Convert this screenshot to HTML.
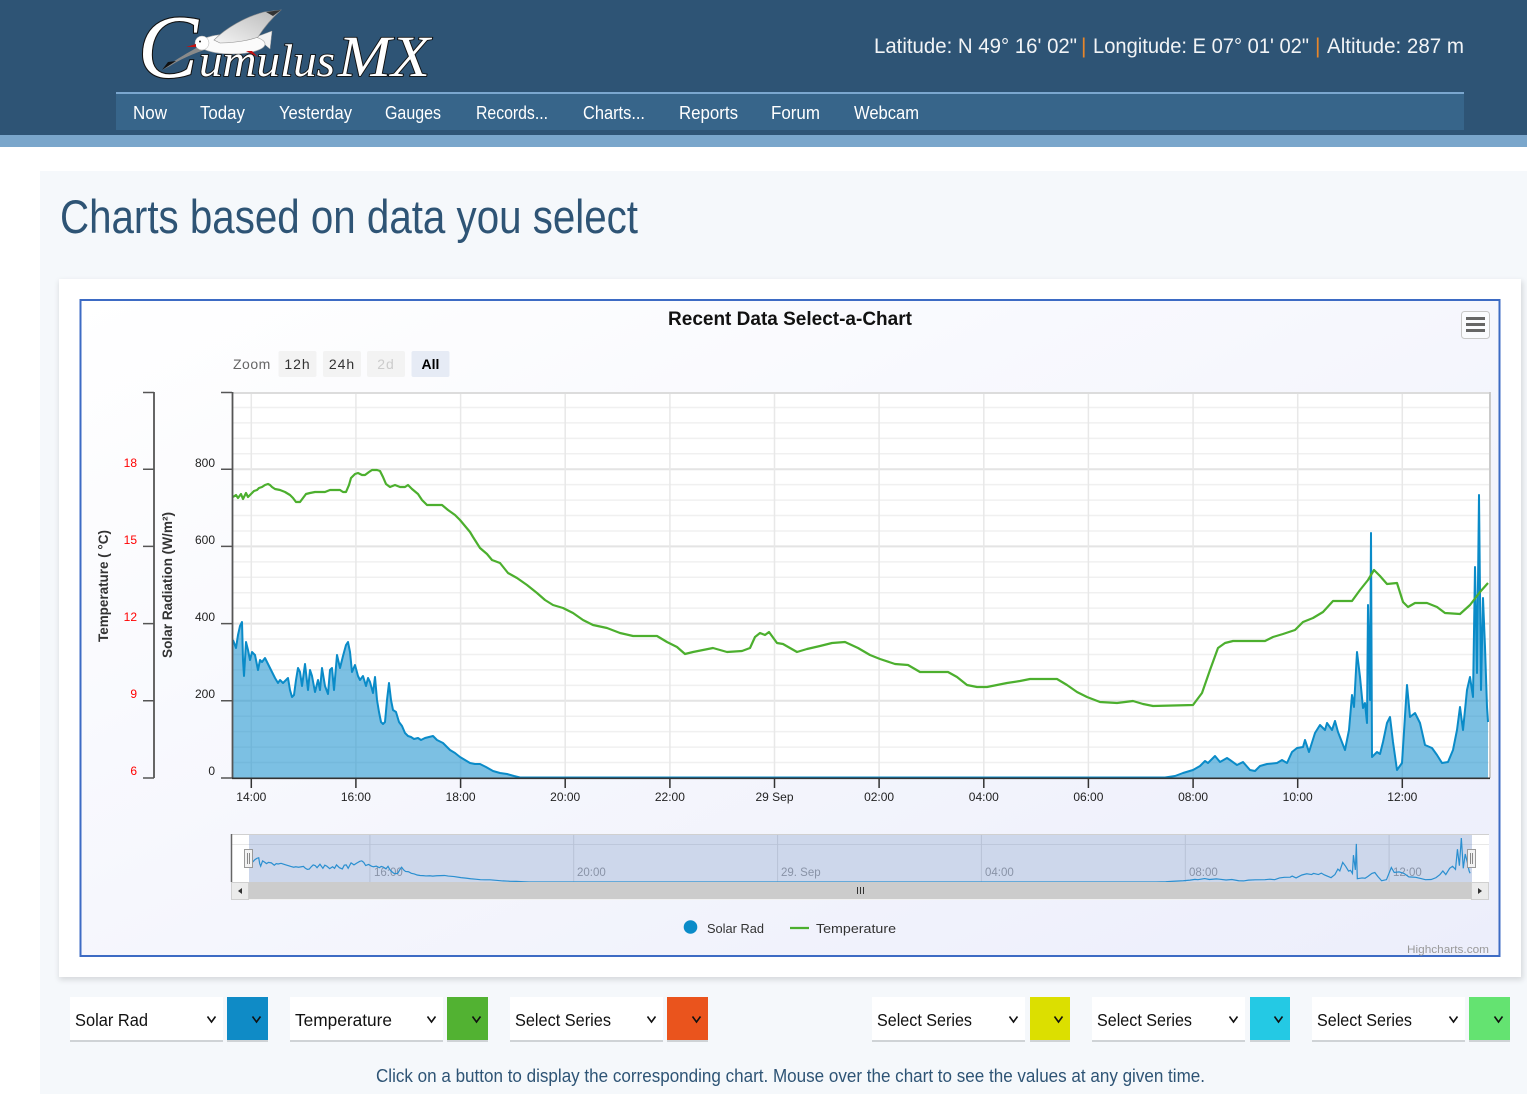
<!DOCTYPE html>
<html><head><meta charset="utf-8">
<style>
html,body{margin:0;padding:0;background:#fff;width:1527px;height:1094px;overflow:hidden}
svg{display:block}
text{font-family:"Liberation Sans",Arial,sans-serif}
</style></head>
<body>
<svg width="1527" height="1094" viewBox="0 0 1527 1094" xmlns="http://www.w3.org/2000/svg">
<defs>
  <linearGradient id="cbg" x1="0" y1="0" x2="1" y2="1">
    <stop offset="0" stop-color="#ffffff"/>
    <stop offset="1" stop-color="#eceefb"/>
  </linearGradient>
  <linearGradient id="wing" x1="0" y1="1" x2="1" y2="0">
    <stop offset="0" stop-color="#f4f4f4"/>
    <stop offset="1" stop-color="#b8b8b8"/>
  </linearGradient>
  <clipPath id="plot"><rect x="232" y="392" width="1258" height="386"/></clipPath>
  <clipPath id="navclip"><rect x="231" y="835" width="1258" height="47"/></clipPath>
  <filter id="sh" x="-5%" y="-5%" width="110%" height="110%"><feGaussianBlur stdDeviation="3"/></filter>
  <path id="sl" vector-effect="non-scaling-stroke" d="M233,640 L236,648 238,635 240,626 242,622 243,660 244,676 246,642 248,650 250,660 252,652 255,655 258,670 260,660 262,662 265,658 268,664 270,668 273,674 275,678 278,683 280,680 283,683 286,680 288,678 290,690 292,697 294,695 296,680 298,668 300,672 302,686 305,664 308,690 310,670 312,676 315,692 318,680 320,690 322,668 325,686 328,694 330,670 332,668 334,690 337,655 340,668 343,656 346,645 348,642 350,652 352,672 355,665 358,676 360,680 363,676 366,686 368,678 370,682 373,693 375,677 377,700 379,712 381,722 383,724 385,722 387,700 389,683 391,700 393,710 396,712 399,722 402,726 405,733 408,736 411,737 414,739 418,738 421,740 425,738 429,737 433,736 437,740 443,743 450,750 455,753 460,757 465,760 470,763 475,764 480,764 486,767 493,771 500,773 507,774 514,776 520,777.5 1165,777.5 1175,776 1183,773 1193,770 1200,766 1205,761 1208,763 1215,756 1220,762 1227,758 1230,760 1237,765 1243,762 1250,770 1255,771 1260,766 1267,764 1277,763 1282,760 1287,763 1292,752 1297,748 1303,747 1305,740 1309,752 1315,733 1320,725 1325,730 1327,723 1332,730 1335,721 1338,732 1345,750 1349,730 1352,695 1354,707 1357,652 1360,677 1363,708 1365,703 1367,723 1368,605 1370,700 1371,533 1372,757 1377,752 1380,754 1383,742 1387,723 1390,717 1393,742 1397,770 1402,763 1407,685 1410,717 1415,713 1420,723 1425,745 1432,748 1437,755 1442,763 1448,762 1453,750 1457,730 1460,707 1463,730 1467,690 1470,677 1473,697 1475,567 1477,673 1479,495 1481,690 1483,598 1485,647 1487,707 1488,722"/>
</defs>

<!-- Header -->
<rect x="0" y="0" width="1527" height="135" fill="#2e5475"/>
<rect x="0" y="135" width="1527" height="12" fill="#7aa6cb"/>
<rect x="116" y="92" width="1348" height="38" fill="#37658a"/>
<rect x="116" y="92" width="1348" height="2" fill="#7ba7cf"/>

<!-- Logo -->
<text x="138" y="77" font-style="italic" font-size="90" fill="#fff" stroke="#111" stroke-width="2.2" paint-order="stroke" style="font-family:'Liberation Serif',serif">C</text>
<text x="199" y="76" font-style="italic" font-size="46" fill="#fff" stroke="#111" stroke-width="1.8" paint-order="stroke" textLength="136" lengthAdjust="spacingAndGlyphs" style="font-family:'Liberation Serif',serif">umulus</text>
<text x="338" y="76" font-style="italic" font-size="58" fill="#fff" stroke="#111" stroke-width="1.8" paint-order="stroke" textLength="92" lengthAdjust="spacingAndGlyphs" style="font-family:'Liberation Serif',serif">MX</text>
<g>
  <!-- far (lower) wing -->
  <path d="M214,47 C200,51 184,57 170,66 L162,70 C172,62 188,52 204,44 Z" fill="#8a8a8a"/>
  <path d="M176,61 L162,70 L168,62 Z" fill="#111"/>
  <!-- tail -->
  <path d="M256,37 L272,31 L270,49 Z" fill="#f2f2f2" stroke="#a0a0a0" stroke-width="0.5"/>
  <!-- body -->
  <ellipse cx="232" cy="44" rx="33" ry="10" fill="#fbfbfb" stroke="#a8a8a8" stroke-width="0.6"/>
  <!-- near (upper) wing -->
  <path d="M214,40 C226,28 245,17 264,12 L281,10 C272,18 265,26 258,37 C248,41 232,43 220,43 Z" fill="url(#wing)" stroke="#8f8f8f" stroke-width="0.6"/>
  <path d="M266,12 L281,10 L273,16 Z" fill="#333"/>
  <!-- head -->
  <circle cx="202" cy="43" r="7" fill="#fff" stroke="#b0b0b0" stroke-width="0.5"/>
  <circle cx="200" cy="41.5" r="1" fill="#222"/>
  <path d="M196,44 L186,47 L196,47 Z" fill="#c41010"/>
  <path d="M246,51 L258,57 L252,51 Z" fill="#c41010"/>
</g>

<!-- Header right text -->
<g font-size="21" fill="#f2f4f6">
  <text x="874" y="53" textLength="203" lengthAdjust="spacingAndGlyphs">Latitude: N 49° 16' 02"</text>
  <text x="1081" y="53" fill="#e8862a">|</text>
  <text x="1093" y="53" textLength="216" lengthAdjust="spacingAndGlyphs">Longitude: E 07° 01' 02"</text>
  <text x="1315" y="53" fill="#e8862a">|</text>
  <text x="1327" y="53" textLength="137" lengthAdjust="spacingAndGlyphs">Altitude: 287 m</text>
</g>

<!-- Nav -->
<g font-size="18" fill="#fff">
  <text x="133" y="119" textLength="34" lengthAdjust="spacingAndGlyphs">Now</text>
  <text x="200" y="119" textLength="45" lengthAdjust="spacingAndGlyphs">Today</text>
  <text x="279" y="119" textLength="73" lengthAdjust="spacingAndGlyphs">Yesterday</text>
  <text x="385" y="119" textLength="56" lengthAdjust="spacingAndGlyphs">Gauges</text>
  <text x="476" y="119" textLength="72" lengthAdjust="spacingAndGlyphs">Records...</text>
  <text x="583" y="119" textLength="62" lengthAdjust="spacingAndGlyphs">Charts...</text>
  <text x="679" y="119" textLength="59" lengthAdjust="spacingAndGlyphs">Reports</text>
  <text x="771" y="119" textLength="49" lengthAdjust="spacingAndGlyphs">Forum</text>
  <text x="854" y="119" textLength="65" lengthAdjust="spacingAndGlyphs">Webcam</text>
</g>

<!-- Content panel -->
<rect x="40" y="171" width="1487" height="923" fill="#f5f8fb"/>
<text x="60" y="233" font-size="47" fill="#2e5475" textLength="578" lengthAdjust="spacingAndGlyphs">Charts based on data you select</text>

<!-- Card -->
<rect x="59" y="281" width="1464" height="699" fill="#000" opacity="0.12" filter="url(#sh)"/>
<rect x="59" y="279" width="1462" height="698" fill="#fff"/>

<!-- Chart container -->
<rect x="80.5" y="300" width="1419" height="656" fill="url(#cbg)" stroke="#3d6bc4" stroke-width="2"/>

<text x="790" y="325" text-anchor="middle" font-size="19" font-weight="bold" fill="#111">Recent Data Select-a-Chart</text>

<!-- Hamburger -->
<rect x="1461.5" y="311.5" width="28" height="27" rx="3" fill="#fafbfe" stroke="#c8c8c8"/>
<path d="M1466,318.5H1485 M1466,324.5H1485 M1466,330.5H1485" stroke="#666" stroke-width="3"/>

<!-- Range selector -->
<text x="233" y="369" font-size="14" fill="#666" letter-spacing="0.5">Zoom</text>
<rect x="278.5" y="351" width="38" height="26" rx="2" fill="#f3f3f3"/>
<rect x="323" y="351" width="38" height="26" rx="2" fill="#f3f3f3"/>
<rect x="367" y="351" width="38" height="26" rx="2" fill="#f3f3f3"/>
<rect x="411.5" y="351" width="38" height="26" rx="2" fill="#e6ebf5"/>
<g font-size="14" text-anchor="middle" letter-spacing="1">
  <text x="297.5" y="369" fill="#333">12h</text>
  <text x="342" y="369" fill="#333">24h</text>
  <text x="386" y="369" fill="#ccc">2d</text>
  <text x="430.5" y="369" fill="#000" font-weight="bold" letter-spacing="0">All</text>
</g>

<!-- Plot area -->
<rect x="232" y="392" width="1258" height="386" fill="#fff"/>
<path d="M232,762.56H1490 M232,747.12H1490 M232,731.68H1490 M232,716.24H1490 M232,685.36H1490 M232,669.92H1490 M232,654.48H1490 M232,639.04H1490 M232,608.16H1490 M232,592.72H1490 M232,577.28H1490 M232,561.84H1490 M232,530.96H1490 M232,515.52H1490 M232,500.08H1490 M232,484.64H1490 M232,453.76H1490 M232,438.32H1490 M232,422.88H1490 M232,407.44H1490" stroke="#f0f0f0" stroke-width="1.5" fill="none"/>
<path d="M232,700.8H1490 M232,623.6H1490 M232,546.4H1490 M232,469.2H1490" stroke="#e4e4e4" stroke-width="2" fill="none"/>
<path d="M251.3,392V778 M355.9,392V778 M460.6,392V778 M565.2,392V778 M669.9,392V778 M774.5,392V778 M879.1,392V778 M983.8,392V778 M1088.4,392V778 M1193.1,392V778 M1297.7,392V778 M1402.3,392V778" stroke="#e8e8e8" stroke-width="1.5" fill="none"/>
<path d="M232,393H1490" stroke="#dcdcdc" stroke-width="2"/>
<path d="M1490,392V778" stroke="#cacaca" stroke-width="2"/>

<!-- Series -->
<g clip-path="url(#plot)">
  <path fill="rgba(16,140,204,0.55)" stroke="none" d="M233,640 L236,648 238,635 240,626 242,622 243,660 244,676 246,642 248,650 250,660 252,652 255,655 258,670 260,660 262,662 265,658 268,664 270,668 273,674 275,678 278,683 280,680 283,683 286,680 288,678 290,690 292,697 294,695 296,680 298,668 300,672 302,686 305,664 308,690 310,670 312,676 315,692 318,680 320,690 322,668 325,686 328,694 330,670 332,668 334,690 337,655 340,668 343,656 346,645 348,642 350,652 352,672 355,665 358,676 360,680 363,676 366,686 368,678 370,682 373,693 375,677 377,700 379,712 381,722 383,724 385,722 387,700 389,683 391,700 393,710 396,712 399,722 402,726 405,733 408,736 411,737 414,739 418,738 421,740 425,738 429,737 433,736 437,740 443,743 450,750 455,753 460,757 465,760 470,763 475,764 480,764 486,767 493,771 500,773 507,774 514,776 520,777.5 1165,777.5 1175,776 1183,773 1193,770 1200,766 1205,761 1208,763 1215,756 1220,762 1227,758 1230,760 1237,765 1243,762 1250,770 1255,771 1260,766 1267,764 1277,763 1282,760 1287,763 1292,752 1297,748 1303,747 1305,740 1309,752 1315,733 1320,725 1325,730 1327,723 1332,730 1335,721 1338,732 1345,750 1349,730 1352,695 1354,707 1357,652 1360,677 1363,708 1365,703 1367,723 1368,605 1370,700 1371,533 1372,757 1377,752 1380,754 1383,742 1387,723 1390,717 1393,742 1397,770 1402,763 1407,685 1410,717 1415,713 1420,723 1425,745 1432,748 1437,755 1442,763 1448,762 1453,750 1457,730 1460,707 1463,730 1467,690 1470,677 1473,697 1475,567 1477,673 1479,495 1481,690 1483,598 1485,647 1487,707 1488,722 L1488,778 L233,778 Z"/>
  <use href="#sl" fill="none" stroke="#0a8bc8" stroke-width="2" stroke-linejoin="round"/>
  <path fill="none" stroke="#4caf2e" stroke-width="2.2" stroke-linejoin="round" d="M233,497 L236,495 238,498 241,494 243,499 246,493 248,497 251,494 254,491 257,490 259,488 262,487 265,485 268,484 270,485 272,487 275,489 280,490 285,492 290,495 293,498 296,502 300,502 303,498 306,494 310,493 315,492 325,492 330,490 340,490 343,492 346,492 349,485 351,478 355,474 358,473 362,475 365,475 369,472 372,470 377,470 380,471 383,477 386,484 390,487 395,485 400,487 405,487 408,485 412,489 418,494 422,500 427,505 442,505 448,510 455,515 460,520 465,526 470,532 473,537 480,548 487,554 492,560 500,563 508,573 517,578 527,585 537,593 545,600 553,605 563,608 573,613 583,620 593,625 607,628 620,633 633,636 657,636 667,642 677,647 685,654 693,652 713,648 727,652 742,651 750,648 755,637 760,633 765,635 769,632 777,643 783,644 790,648 797,652 807,649 820,646 832,643 845,642 858,648 870,655 880,659 895,664 908,665 920,672 948,672 957,677 967,685 977,687 987,687 997,685 1007,683 1020,681 1030,679 1057,679 1067,685 1077,692 1087,697 1100,702 1117,703 1133,701 1143,704 1153,706 1193,705 1202,693 1210,670 1218,648 1225,643 1233,641 1265,641 1273,637 1283,634 1295,630 1303,622 1313,618 1323,612 1333,601 1352,601 1360,590 1368,580 1374,570 1380,576 1387,584 1397,583 1403,602 1408,607 1415,603 1427,603 1437,607 1445,613 1460,614 1470,605 1480,592 1488,583"/>
</g>

<!-- Axes -->
<path d="M232.5,392V778" stroke="#555" stroke-width="1.8"/>
<path d="M221,778H232 M221,700.8H232 M221,623.6H232 M221,546.4H232 M221,469.2H232 M221,392.5H232" stroke="#555" stroke-width="1.5"/>
<path d="M154,392V778" stroke="#555" stroke-width="1.8"/>
<path d="M143,778H154 M143,700.8H154 M143,623.6H154 M143,546.4H154 M143,469.2H154 M143,392.5H154" stroke="#555" stroke-width="1.5"/>
<path d="M232,778.3H1490" stroke="#333" stroke-width="1.6"/>
<path d="M251.3,778V788 M355.9,778V788 M460.6,778V788 M565.2,778V788 M669.9,778V788 M774.5,778V788 M879.1,778V788 M983.8,778V788 M1088.4,778V788 M1193.1,778V788 M1297.7,778V788 M1402.3,778V788" stroke="#333" stroke-width="1.5"/>

<g font-size="12" fill="#222" text-anchor="end">
  <text x="215" y="467">800</text>
  <text x="215" y="544">600</text>
  <text x="215" y="621">400</text>
  <text x="215" y="698">200</text>
  <text x="215" y="775">0</text>
</g>
<g font-size="12" fill="#ff0000" text-anchor="end">
  <text x="137" y="467">18</text>
  <text x="137" y="544">15</text>
  <text x="137" y="621">12</text>
  <text x="137" y="698">9</text>
  <text x="137" y="775">6</text>
</g>
<text transform="translate(108,586) rotate(-90)" text-anchor="middle" font-size="13.5" fill="#333" font-weight="bold" textLength="112" lengthAdjust="spacingAndGlyphs">Temperature ( °C)</text>
<text transform="translate(172,585) rotate(-90)" text-anchor="middle" font-size="13.5" fill="#333" font-weight="bold" textLength="146" lengthAdjust="spacingAndGlyphs">Solar Radiation (W/m²)</text>

<g font-size="12" fill="#222" text-anchor="middle">
  <text x="251.3" y="801">14:00</text>
  <text x="355.9" y="801">16:00</text>
  <text x="460.6" y="801">18:00</text>
  <text x="565.2" y="801">20:00</text>
  <text x="669.9" y="801">22:00</text>
  <text x="774.5" y="801">29 Sep</text>
  <text x="879.1" y="801">02:00</text>
  <text x="983.8" y="801">04:00</text>
  <text x="1088.4" y="801">06:00</text>
  <text x="1193.1" y="801">08:00</text>
  <text x="1297.7" y="801">10:00</text>
  <text x="1402.3" y="801">12:00</text>
</g>

<!-- Navigator -->
<rect x="231" y="835" width="1258" height="47" fill="#fff"/>
<path d="M231,844.5H1489" stroke="#e8e8e8" stroke-width="1"/>
<path d="M369.9,835V882 M573.7,835V882 M777.6,835V882 M981.4,835V882 M1185.3,835V882 M1389.1,835V882" stroke="#e0e0e0" stroke-width="1"/>
<g font-size="11.5" fill="#9a9a9a">
  <text x="374" y="876">16:00</text>
  <text x="577" y="876">20:00</text>
  <text x="781" y="876">29. Sep</text>
  <text x="985" y="876">04:00</text>
  <text x="1189" y="876">08:00</text>
  <text x="1393" y="876">12:00</text>
</g>
<rect x="249" y="835" width="1223" height="47" fill="rgba(102,133,194,0.33)"/>
<g clip-path="url(#navclip)">
  <use href="#sl" transform="matrix(0.9722 0 0 0.1555 23.45 761.02)" fill="none" stroke="#2a8fd0" stroke-width="1.2"/>
</g>
<path d="M231,834.5H1489" stroke="#d0d0d0" stroke-width="1"/>
<path d="M231.5,834V882" stroke="#666" stroke-width="1.5"/>
<rect x="244.5" y="849.5" width="8" height="18" fill="#f2f2f2" stroke="#999"/>
<path d="M247.5,853V864 M249.5,853V864" stroke="#888" stroke-width="1"/>
<rect x="1467.5" y="849.5" width="8" height="18" fill="#f2f2f2" stroke="#999"/>
<path d="M1470.5,853V864 M1472.5,853V864" stroke="#888" stroke-width="1"/>

<!-- Scrollbar -->
<rect x="231" y="882" width="1258" height="18" fill="#f2f2f2"/>
<rect x="249" y="882" width="1223" height="17" fill="#cccccc"/>
<rect x="231.5" y="882.5" width="17" height="17" fill="#ebebeb" stroke="#d0d0d0"/>
<rect x="1471.5" y="882.5" width="17" height="17" fill="#ebebeb" stroke="#d0d0d0"/>
<path d="M242,888 L238,891 L242,894 Z" fill="#333"/>
<path d="M1478,888 L1482,891 L1478,894 Z" fill="#333"/>
<path d="M857.5,887V894 M860.5,887V894 M863.5,887V894" stroke="#333" stroke-width="1"/>

<!-- Legend -->
<circle cx="690.5" cy="927" r="6.8" fill="#0a8bc8"/>
<text x="707" y="933" font-size="13" fill="#333" textLength="57" lengthAdjust="spacingAndGlyphs">Solar Rad</text>
<path d="M790,928H809" stroke="#4caf2e" stroke-width="2.2"/>
<text x="816" y="933" font-size="13" fill="#333" textLength="80" lengthAdjust="spacingAndGlyphs">Temperature</text>
<text x="1489" y="953" text-anchor="end" font-size="11" fill="#999" textLength="82" lengthAdjust="spacingAndGlyphs">Highcharts.com</text>

<!-- Bottom selects -->
<g>
  <rect x="70" y="997" width="153" height="45" fill="#fff"/>
  <rect x="290" y="997" width="153" height="45" fill="#fff"/>
  <rect x="510" y="997" width="153" height="45" fill="#fff"/>
  <rect x="872" y="997" width="153" height="45" fill="#fff"/>
  <rect x="1092" y="997" width="153" height="45" fill="#fff"/>
  <rect x="1312" y="997" width="153" height="45" fill="#fff"/>
  <rect x="227" y="997" width="41" height="45" fill="#0f8bc6"/>
  <rect x="447" y="997" width="41" height="45" fill="#52b232"/>
  <rect x="667" y="997" width="41" height="45" fill="#ea541d"/>
  <rect x="1030" y="997" width="40" height="45" fill="#dcdf00"/>
  <rect x="1250" y="997" width="40" height="45" fill="#24c9e4"/>
  <rect x="1469" y="997" width="41" height="45" fill="#64e371"/>
  <path d="M70,1041H223 M290,1041H443 M510,1041H663 M872,1041H1025 M1092,1041H1245 M1312,1041H1465 M227,1041H268 M447,1041H488 M667,1041H708 M1030,1041H1070 M1250,1041H1290 M1469,1041H1510" stroke="#cfd3d6" stroke-width="2"/>
</g>
<g fill="none" stroke="#111" stroke-width="1.6">
  <path d="M207.5,1016.5 L211.5,1022 L215.5,1016.5"/>
  <path d="M252.5,1016.5 L256.5,1022 L260.5,1016.5"/>
  <path d="M427.5,1016.5 L431.5,1022 L435.5,1016.5"/>
  <path d="M472.5,1016.5 L476.5,1022 L480.5,1016.5"/>
  <path d="M647.5,1016.5 L651.5,1022 L655.5,1016.5"/>
  <path d="M692.5,1016.5 L696.5,1022 L700.5,1016.5"/>
  <path d="M1009.5,1016.5 L1013.5,1022 L1017.5,1016.5"/>
  <path d="M1054.5,1016.5 L1058.5,1022 L1062.5,1016.5"/>
  <path d="M1229.5,1016.5 L1233.5,1022 L1237.5,1016.5"/>
  <path d="M1274.5,1016.5 L1278.5,1022 L1282.5,1016.5"/>
  <path d="M1449.5,1016.5 L1453.5,1022 L1457.5,1016.5"/>
  <path d="M1494.5,1016.5 L1498.5,1022 L1502.5,1016.5"/>
</g>
<g font-size="17.5" fill="#111">
  <text x="75" y="1026" textLength="73" lengthAdjust="spacingAndGlyphs">Solar Rad</text>
  <text x="295" y="1026" textLength="97" lengthAdjust="spacingAndGlyphs">Temperature</text>
  <text x="515" y="1026" textLength="96" lengthAdjust="spacingAndGlyphs">Select Series</text>
  <text x="877" y="1026" textLength="95" lengthAdjust="spacingAndGlyphs">Select Series</text>
  <text x="1097" y="1026" textLength="95" lengthAdjust="spacingAndGlyphs">Select Series</text>
  <text x="1317" y="1026" textLength="95" lengthAdjust="spacingAndGlyphs">Select Series</text>
</g>

<text x="376" y="1082" font-size="18" fill="#2e5475" textLength="829" lengthAdjust="spacingAndGlyphs">Click on a button to display the corresponding chart.  Mouse over the chart to see the values at any given time.</text>
</svg>
</body></html>
